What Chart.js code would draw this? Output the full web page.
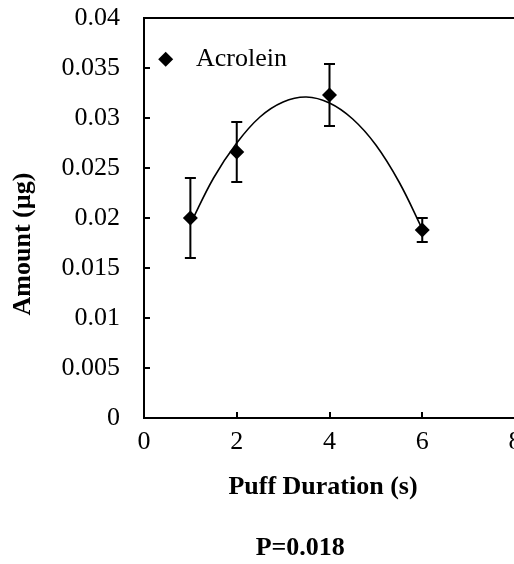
<!DOCTYPE html>
<html>
<head>
<meta charset="utf-8">
<script src="https://cdn.jsdelivr.net/npm/chart.js@4.4.1/dist/chart.umd.min.js"></script>
<style>
  html, body { margin: 0; padding: 0; background: #fff; overflow: hidden; }
  #wrap { width: 540px; height: 564px; }
</style>
</head>
<body>
<div id="wrap"><canvas id="chart" width="540" height="564"></canvas></div>
<script>
// data
const puffX = [1, 2, 4, 6];
const amount = [0.0200, 0.0266, 0.0323, 0.0188];
const errors = [0.0040, 0.0030, 0.0031, 0.0012];

// trend curve
const curveX = [1, 1.5, 2, 2.5, 3, 3.5, 4, 4.5, 5, 5.5, 6];
const curveY = [0.0194, 0.0240, 0.0275, 0.0301, 0.0316, 0.0321, 0.0315, 0.0299, 0.0273, 0.0236, 0.0189];

const yTicks = [0, 0.005, 0.01, 0.015, 0.02, 0.025, 0.03, 0.035, 0.04];
const xTicks = [0, 2, 4, 6, 8];

const serif = 'Liberation Serif, Times New Roman, serif';

// error bars drawn behind the markers
const errorBars = {
    id: 'errorBars',
    beforeDatasetsDraw(chart) {
        const { ctx, scales: { x, y } } = chart;
        ctx.save();
        ctx.strokeStyle = '#000';
        ctx.lineWidth = 2;
        puffX.forEach((px, i) => {
            const cx = x.getPixelForValue(px);
            const top = y.getPixelForValue(amount[i] + errors[i]);
            const bot = y.getPixelForValue(amount[i] - errors[i]);
            ctx.beginPath();
            ctx.moveTo(cx, top); ctx.lineTo(cx, bot);
            ctx.moveTo(cx - 5.5, top); ctx.lineTo(cx + 5.5, top);
            ctx.moveTo(cx - 5.5, bot); ctx.lineTo(cx + 5.5, bot);
            ctx.stroke();
        });
        ctx.restore();
    }
};

// top and right edges of the plot box, plus the legend inside it
const frame = {
    id: 'frame',
    afterDraw(chart) {
        const { ctx, chartArea: a } = chart;
        ctx.save();
        ctx.strokeStyle = '#000';
        ctx.lineWidth = 2;
        ctx.beginPath();
        ctx.moveTo(a.left, a.top);
        ctx.lineTo(a.right, a.top);
        ctx.lineTo(a.right, a.bottom);
        ctx.stroke();

        // legend entry for the marker series
        const ds = chart.data.datasets[0];
        const mx = a.left + 21.7, my = a.top + 41.3, r = 7.5;
        ctx.fillStyle = '#000';
        ctx.beginPath();
        ctx.moveTo(mx - r, my);
        ctx.lineTo(mx, my - r);
        ctx.lineTo(mx + r, my);
        ctx.lineTo(mx, my + r);
        ctx.closePath();
        ctx.fill();
        ctx.font = '26px ' + serif;
        ctx.textAlign = 'left';
        ctx.textBaseline = 'alphabetic';
        ctx.fillText(ds.label, a.left + 52, a.top + 48);
        ctx.restore();
    }
};

new Chart(document.getElementById('chart').getContext('2d'), {
    type: 'scatter',
    data: {
        datasets: [
            {
                label: 'Acrolein',
                data: puffX.map((x, i) => ({ x: x, y: amount[i] })),
                pointStyle: 'rectRot',
                pointRadius: 7.5,
                pointHoverRadius: 7.5,
                backgroundColor: '#000',
                borderColor: '#000',
                borderWidth: 0,
                order: 0
            },
            {
                label: 'fit',
                data: curveX.map((x, i) => ({ x: x, y: curveY[i] })),
                showLine: true,
                tension: 0.4,
                pointRadius: 0,
                borderColor: '#000',
                borderWidth: 1.6,
                order: 1
            }
        ]
    },
    options: {
        responsive: false,
        animation: false,
        devicePixelRatio: 1,
        layout: { padding: { left: 0, right: 25, top: 18, bottom: 0 } },
        scales: {
            x: {
                type: 'linear',
                min: 0,
                max: 8,
                afterBuildTicks: s => { s.ticks = xTicks.map(v => ({ value: v })); },
                afterFit: s => { s.height = 114.8; },
                ticks: {
                    color: '#000',
                    padding: 15,
                    font: { family: serif, size: 26 }
                },
                grid: { drawOnChartArea: false, color: '#000', lineWidth: 2, tickLength: -6 },
                border: { display: true, color: '#000', width: 2 },
                title: {
                    display: true,
                    text: 'Puff Duration (s)  ',
                    color: '#000',
                    font: { family: serif, size: 26, weight: 'bold' },
                    padding: { top: 0, bottom: 30 }
                }
            },
            y: {
                min: 0,
                max: 0.04,
                afterBuildTicks: s => { s.ticks = yTicks.map(v => ({ value: v })); },
                afterFit: s => { s.width = 144; s.paddingTop = 0; s.paddingBottom = 0; },
                ticks: {
                    color: '#000',
                    padding: 30,
                    font: { family: serif, size: 26 },
                    callback: v => String(+v.toFixed(3))
                },
                grid: { drawOnChartArea: false, color: '#000', lineWidth: 2, tickLength: -6 },
                border: { display: true, color: '#000', width: 2 },
                title: {
                    display: true,
                    text: 'Amount (µg)        ',
                    color: '#000',
                    font: { family: serif, size: 26, weight: 'bold' },
                    padding: { top: 8, bottom: 0 }
                }
            }
        },
        plugins: {
            legend: { display: false },
            title: {
                display: true,
                position: 'bottom',
                fullSize: false,
                text: 'P=0.018         ',
                color: '#000',
                font: { family: serif, size: 26, weight: 'bold' },
                padding: { top: 0, bottom: 0 }
            },
            tooltip: { enabled: false }
        }
    },
    plugins: [errorBars, frame]
});
</script>
</body>
</html>
